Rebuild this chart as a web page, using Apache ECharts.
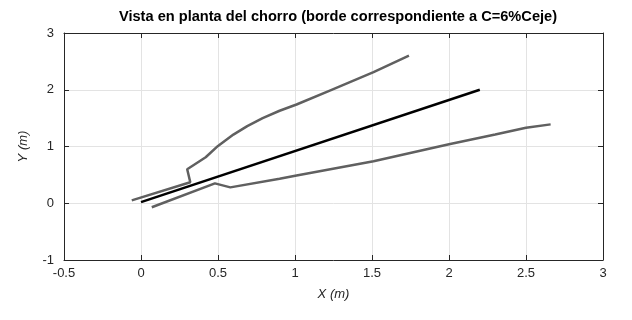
<!DOCTYPE html>
<html lang="en">
<head>
  <meta charset="UTF-8">
  <title>Vista en planta del chorro</title>
  <style>
    html, body { margin: 0; padding: 0; background: #fff; }
    #main { width: 632px; height: 320px; }
  </style>
</head>
<body>
<div id="main"></div>
<script src="https://cdn.jsdelivr.net/npm/echarts@6/dist/echarts.min.js"></script>
<script>
  // borde superior del chorro
  var upperX = [-0.06, 0.32, 0.30, 0.42, 0.50, 0.60, 0.69, 0.79, 0.90, 1.01, 1.23, 1.51, 1.74];
  var upperY = [0.05, 0.37, 0.60, 0.81, 1.01, 1.21, 1.36, 1.50, 1.63, 1.74, 1.99, 2.31, 2.60];
  // eje del chorro
  var axisX = [0.00, 2.20];
  var axisY = [0.02, 2.00];
  // borde inferior del chorro
  var lowerX = [0.07, 0.48, 0.58, 0.90, 1.01, 1.51, 2.00, 2.30, 2.50, 2.66];
  var lowerY = [-0.07, 0.35, 0.28, 0.43, 0.49, 0.74, 1.04, 1.21, 1.33, 1.39];

  var xTicks = [-0.5, 3, 0.5];   // min, max, paso
  var yTicks = [-1, 3, 1];

  var pairs = function (xs, ys) {
    return xs.map(function (x, i) { return [x, ys[i]]; });
  };

  var chart = echarts.init(document.getElementById('main'));

  var axisCol = '#262626';
  var baseX = {
    type: 'value', min: xTicks[0], max: xTicks[1], interval: xTicks[2],
    axisLine: { show: true, onZero: false, lineStyle: { color: axisCol, width: 1 } },
    axisTick: { show: true, inside: true, length: 5, lineStyle: { color: axisCol } }
  };
  var baseY = {
    type: 'value', min: yTicks[0], max: yTicks[1], interval: yTicks[2],
    axisLine: { show: true, onZero: false, lineStyle: { color: axisCol, width: 1 } },
    axisTick: { show: true, inside: true, length: 5, lineStyle: { color: axisCol } }
  };

  var lineSeries = function (data, color) {
    return {
      type: 'line', data: data, showSymbol: false, symbol: 'none',
      xAxisIndex: 0, yAxisIndex: 0,
      lineStyle: { color: color, width: 2.5 }, animation: false
    };
  };

  chart.setOption({
    backgroundColor: '#fff',
    animation: false,
    title: {
      text: 'Vista en planta del chorro (borde correspondiente a C=6%Ceje)',
      left: 333, top: 4, textAlign: 'center',
      textStyle: { fontFamily: 'Liberation Sans', fontWeight: 'bold', fontSize: 14.6, color: '#000' }
    },
    grid: { left: 64, right: 29, top: 33, bottom: 60 },
    xAxis: [
      Object.assign({}, baseX, {
        position: 'bottom',
        name: 'X (m)', nameLocation: 'middle', nameGap: 28,
        nameTextStyle: { fontFamily: 'Liberation Sans', fontStyle: 'italic', fontSize: 13, color: axisCol },
        axisLabel: { fontFamily: 'Liberation Sans', fontSize: 13, color: axisCol, margin: 7 },
        splitLine: { show: true, lineStyle: { color: '#e3e3e3', width: 1 } }
      }),
      Object.assign({}, baseX, {
        position: 'top', axisLabel: { show: false }, splitLine: { show: false }
      })
    ],
    yAxis: [
      Object.assign({}, baseY, {
        position: 'left',
        name: 'Y (m)', nameLocation: 'middle', nameGap: 34, nameRotate: 90,
        nameTextStyle: { fontFamily: 'Liberation Sans', fontStyle: 'italic', fontSize: 13, color: axisCol },
        axisLabel: { fontFamily: 'Liberation Sans', fontSize: 13, color: axisCol, margin: 10 },
        splitLine: { show: true, lineStyle: { color: '#e3e3e3', width: 1 } }
      }),
      Object.assign({}, baseY, {
        position: 'right', axisLabel: { show: false }, splitLine: { show: false }
      })
    ],
    series: [
      lineSeries(pairs(upperX, upperY), '#606060'),
      lineSeries(pairs(axisX, axisY), '#000000'),
      lineSeries(pairs(lowerX, lowerY), '#606060')
    ]
  });
</script>
</body>
</html>
